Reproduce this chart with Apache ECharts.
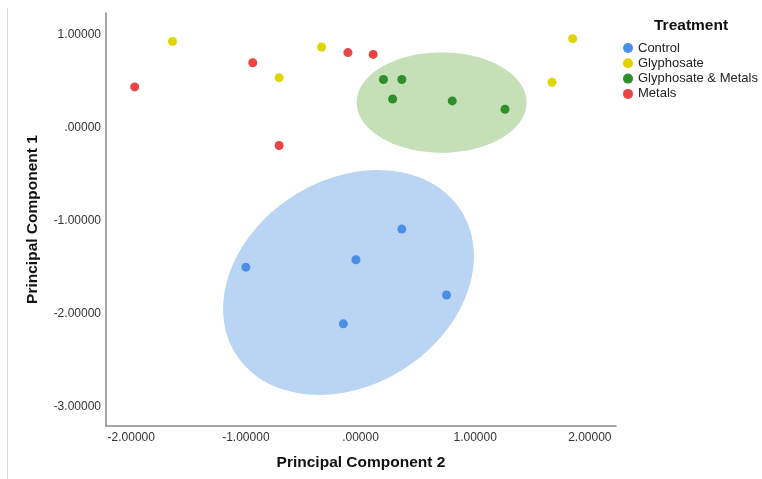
<!DOCTYPE html>
<html>
<head>
<meta charset="utf-8">
<script src="https://cdn.jsdelivr.net/npm/echarts@6/dist/echarts.min.js"></script>
<style>
  html, body { margin: 0; padding: 0; background: #fff; }
  #chart { width: 762px; height: 479px; }
</style>
</head>
<body>
<div id="chart"></div>
<script>
// PCA scores by treatment group: PC2 on x, PC1 on y
const categories = ['Control', 'Glyphosate', 'Glyphosate & Metals', 'Metals'];

const controlPC2 = [-1.00, -0.04, -0.15, 0.36, 0.75];
const controlPC1 = [-1.50, -1.42, -2.11, -1.09, -1.80];

const glyphosatePC2 = [-1.64, -0.71, -0.34, 1.85, 1.67];
const glyphosatePC1 = [0.93, 0.54, 0.87, 0.96, 0.49];

const glyMetalsPC2 = [0.20, 0.36, 0.28, 0.80, 1.26];
const glyMetalsPC1 = [0.52, 0.52, 0.31, 0.29, 0.20];

const metalsPC2 = [-1.97, -0.94, -0.11, 0.11, -0.71];
const metalsPC1 = [0.44, 0.70, 0.81, 0.79, -0.19];

// Group ellipses: centre and the two semi-axis vectors, in data units
const controlEllipse = { center: [-0.105, -1.665], major: [0.983, 0.771], minor: [0.480, -0.933] };
const glyMetalsEllipse = { center: [0.707, 0.272], major: [0.741, 0], minor: [0, 0.540] };

const xTicks = [-2, -1, 0, 1, 2];
const yTicks = [-3, -2, -1, 0, 1];

const colors = {
  'Control': '#4a8fe7',
  'Glyphosate': '#e2d400',
  'Glyphosate & Metals': '#2f8f2b',
  'Metals': '#ea4444'
};
const ellipseFill = { control: '#bad5f3', glyMetals: '#c5dfb7' };

function zip(xs, ys) { return xs.map((x, i) => [x, ys[i]]); }

function fmt(v) {
  let s = Math.abs(v).toFixed(5);
  if (s.startsWith('0.')) s = s.slice(1);
  return (v < 0 ? '-' : '') + s;
}

function ellipseSeries(name, e, fill) {
  return {
    name: name,
    type: 'custom',
    silent: true,
    z: 1,
    data: [e.center],
    renderItem: function (params, api) {
      const pts = [];
      const n = 120;
      for (let k = 0; k < n; k++) {
        const t = 2 * Math.PI * k / n;
        const c = Math.cos(t), s = Math.sin(t);
        pts.push(api.coord([
          e.center[0] + e.major[0] * c + e.minor[0] * s,
          e.center[1] + e.major[1] * c + e.minor[1] * s
        ]));
      }
      return { type: 'polygon', shape: { points: pts }, style: { fill: fill, stroke: null } };
    }
  };
}

function scatterSeries(name, xs, ys) {
  return {
    name: name,
    type: 'scatter',
    z: 3,
    symbol: 'circle',
    symbolSize: 9,
    itemStyle: { color: colors[name], opacity: 1 },
    data: zip(xs, ys)
  };
}

const chart = echarts.init(document.getElementById('chart'), null, { renderer: 'canvas' });

chart.setOption({
  animation: false,
  backgroundColor: '#ffffff',
  textStyle: { fontFamily: 'Liberation Sans' },
  title: {
    text: 'Treatment',
    left: 654,
    top: 18,
    padding: 0,
    textStyle: { fontFamily: 'Liberation Sans', fontSize: 15.5, fontWeight: 'bold', color: '#111' }
  },
  legend: {
    data: categories,
    orient: 'vertical',
    left: 623,
    top: 40.5,
    padding: 0,
    itemGap: 0.3,
    itemWidth: 10,
    itemHeight: 10,
    icon: 'circle',
    selectedMode: false,
    textStyle: { fontFamily: 'Liberation Sans', fontSize: 13, lineHeight: 15, color: '#222' }
  },
  graphic: [{
    type: 'line',
    shape: { x1: 7.5, y1: 8, x2: 7.5, y2: 479 },
    style: { stroke: '#d9d9d9', lineWidth: 1 },
    silent: true
  }],
  grid: { left: 106, right: 146, top: 13, bottom: 53 },
  xAxis: {
    type: 'value',
    min: -2.22,
    max: 2.228,
    name: 'Principal Component 2',
    nameLocation: 'middle',
    nameGap: 29,
    nameTextStyle: { fontFamily: 'Liberation Sans', fontSize: 15.5, fontWeight: 'bold', color: '#111' },
    axisLine: { show: true, onZero: false, lineStyle: { color: '#8a8a8a', width: 1.5 } },
    axisTick: { show: false },
    splitLine: { show: false },
    axisLabel: {
      customValues: xTicks,
      formatter: fmt,
      margin: 6,
      fontFamily: 'Liberation Sans',
      fontSize: 12,
      color: '#333'
    }
  },
  yAxis: {
    type: 'value',
    min: -3.21,
    max: 1.236,
    name: 'Principal Component 1',
    nameLocation: 'middle',
    nameGap: 65,
    nameTextStyle: { fontFamily: 'Liberation Sans', fontSize: 15.5, fontWeight: 'bold', color: '#111' },
    axisLine: { show: true, onZero: false, lineStyle: { color: '#8a8a8a', width: 1.5 } },
    axisTick: { show: false },
    splitLine: { show: false },
    axisLabel: {
      customValues: yTicks,
      formatter: fmt,
      margin: 5,
      fontFamily: 'Liberation Sans',
      fontSize: 12,
      color: '#333'
    }
  },
  series: [
    ellipseSeries('Control ellipse', controlEllipse, ellipseFill.control),
    ellipseSeries('Glyphosate & Metals ellipse', glyMetalsEllipse, ellipseFill.glyMetals),
    scatterSeries('Control', controlPC2, controlPC1),
    scatterSeries('Glyphosate', glyphosatePC2, glyphosatePC1),
    scatterSeries('Glyphosate & Metals', glyMetalsPC2, glyMetalsPC1),
    scatterSeries('Metals', metalsPC2, metalsPC1)
  ]
});
</script>
</body>
</html>
